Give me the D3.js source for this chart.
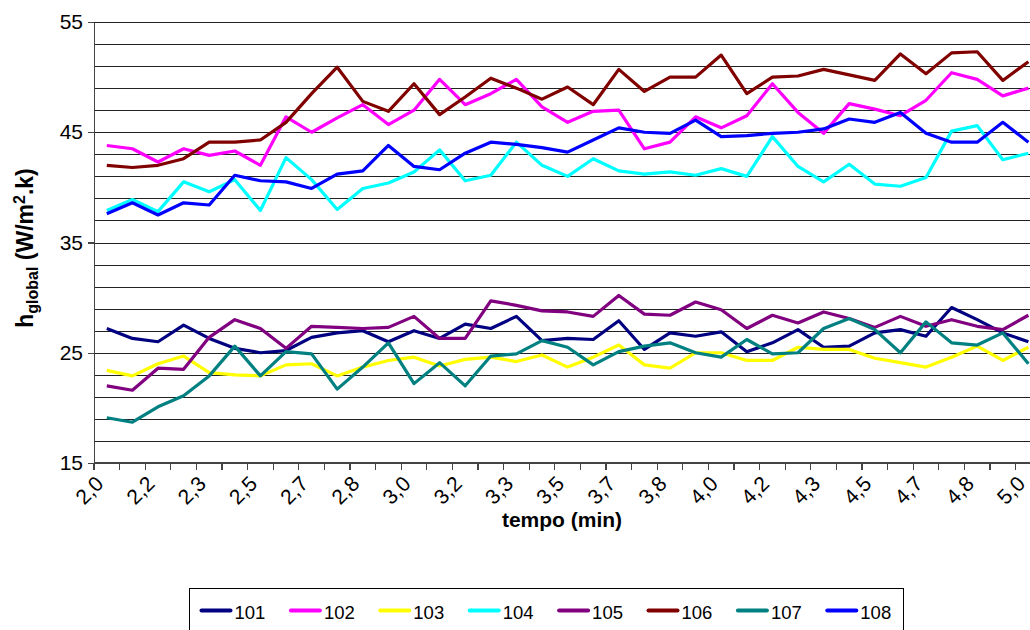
<!DOCTYPE html>
<html>
<head>
    <meta charset="utf-8">
    <script src="https://d3js.org/d3.v7.min.js"></script>
    <style>
        html, body {
            margin: 0;
            padding: 0;
            background: #fff;
            font-family: "Liberation Sans", Arial, sans-serif;
        }
        svg { display: block; }
        .grid line { stroke: #222; stroke-width: 1; shape-rendering: crispEdges; }
        .axis path, .axis line { stroke: #444; stroke-width: 1.3; shape-rendering: crispEdges; }
        .axis text { font-size: 21px; fill: #000; }
        .serie { fill: none; stroke-width: 3.2; stroke-linejoin: round; }
    </style>
</head>
<body>
<div id="chart"></div>
<script>
    // categorias (tempo, min) - rotulos mostrados a cada 2 categorias
    var tempo = ["2,0","2,1","2,2","2,3","2,3","2,4","2,5","2,6","2,7","2,8","2,8","2,9",
                 "3,0","3,1","3,2","3,3","3,3","3,4","3,5","3,6","3,7","3,8","3,8","3,9",
                 "4,0","4,1","4,2","4,3","4,3","4,4","4,5","4,6","4,7","4,8","4,8","4,9","5,0"];

    var s101 = [27.2,26.3,26.0,27.5,26.3,25.4,25.0,25.2,26.4,26.8,27.0,26.0,27.0,26.3,27.6,27.2,28.3,26.1,26.3,26.2,
                27.9,25.3,26.8,26.5,26.9,25.1,25.9,27.1,25.5,25.6,26.8,27.1,26.5,29.1,28.0,26.8,26.0];
    var s102 = [43.8,43.5,42.3,43.5,42.9,43.3,42.0,46.4,45.0,46.3,47.5,45.7,47.0,49.8,47.5,48.5,49.8,47.3,45.9,46.9,
                47.0,43.5,44.1,46.4,45.4,46.5,49.4,46.8,44.9,47.6,47.1,46.5,47.9,50.4,49.8,48.3,49.0];
    var s103 = [23.4,22.9,24.0,24.7,23.2,23.0,22.9,23.9,24.0,22.9,23.7,24.3,24.6,23.8,24.4,24.6,24.2,24.8,23.7,24.6,
                25.7,23.9,23.6,25.0,25.0,24.3,24.3,25.5,25.3,25.3,24.5,24.1,23.7,24.6,25.6,24.3,25.5];
    var s104 = [37.9,38.9,37.8,40.5,39.6,40.7,37.9,42.7,40.7,38.0,39.9,40.4,41.4,43.4,40.6,41.1,44.1,42.0,41.0,42.6,
                41.5,41.2,41.4,41.1,41.7,41.0,44.6,41.9,40.5,42.1,40.3,40.1,40.9,45.1,45.6,42.5,43.1];
    var s105 = [22.0,21.6,23.6,23.5,26.4,28.0,27.2,25.4,27.4,27.3,27.2,27.3,28.3,26.3,26.3,29.7,29.3,28.8,28.7,28.3,
                30.2,28.5,28.4,29.6,28.9,27.2,28.4,27.7,28.7,28.1,27.3,28.3,27.4,28.0,27.4,27.1,28.4];
    var s106 = [42.0,41.8,42.0,42.6,44.1,44.1,44.3,45.9,48.5,50.9,47.8,46.9,49.4,46.6,48.2,49.9,49.0,48.0,49.1,47.5,
                50.7,48.7,50.0,50.0,52.0,48.5,50.0,50.1,50.7,50.2,49.7,52.1,50.3,52.2,52.3,49.7,51.4];
    var s107 = [19.1,18.7,20.1,21.1,22.9,25.6,22.9,25.1,24.9,21.7,23.7,25.9,22.2,24.1,22.0,24.7,24.9,26.1,25.5,23.9,
                25.1,25.6,25.9,25.0,24.6,26.2,24.9,25.0,27.2,28.1,27.1,25.0,27.8,25.9,25.7,26.8,24.0];
    var s108 = [37.6,38.6,37.5,38.6,38.4,41.1,40.6,40.5,39.9,41.2,41.5,43.8,41.9,41.6,43.1,44.1,43.9,43.6,43.2,44.3,
                45.4,45.0,44.9,46.1,44.6,44.7,44.9,45.0,45.3,46.2,45.9,46.8,44.9,44.1,44.1,45.9,44.1];

    var nomes = ["101", "102", "103", "104", "105", "106", "107", "108"];
    var cores = ["#000080", "#ff00ff", "#ffff00", "#00ffff", "#800080", "#800000", "#008080", "#0000ff"];
    var yTicks = [15, 25, 35, 45, 55];

    var series = [s101, s102, s103, s104, s105, s106, s107, s108].map(function (v, k) {
        return {nome: nomes[k], cor: cores[k], valores: v};
    });

    var width = 1030, height = 630;
    var mLeft = 94, mTop = 22, mBottom = 463, step = 25.6;

    var svg = d3.select("#chart").append("svg")
        .attr("width", width)
        .attr("height", height);

    var x = d3.scaleBand()
        .domain(tempo.map(function (d, i) { return i; }))
        .range([mLeft, mLeft + tempo.length * step])
        .padding(0);

    var y = d3.scaleLinear()
        .domain([15, 55])
        .range([mBottom, mTop]);

    // grade horizontal (a cada 2 unidades)
    svg.append("g")
        .attr("class", "grid")
        .selectAll("line")
        .data(d3.range(17, 56, 2))
        .enter().append("line")
        .attr("x1", mLeft)
        .attr("x2", width)
        .attr("y1", function (d) { return Math.round(y(d)) + 0.5; })
        .attr("y2", function (d) { return Math.round(y(d)) + 0.5; });

    // eixo y
    svg.append("g")
        .attr("class", "axis")
        .attr("transform", "translate(" + mLeft + ",0)")
        .call(d3.axisLeft(y).tickValues(yTicks).tickSize(6).tickSizeOuter(0).tickPadding(5));

    // eixo x: marcas nas bordas das categorias
    var gx = svg.append("g")
        .attr("class", "axis")
        .attr("transform", "translate(0," + mBottom + ")");
    gx.append("line")
        .attr("x1", mLeft).attr("x2", width)
        .attr("y1", 0).attr("y2", 0);
    gx.selectAll("line.tick")
        .data(tempo.map(function (d, i) { return i; }))
        .enter().append("line")
        .attr("class", "tick")
        .attr("x1", function (i) { return x(i); })
        .attr("x2", function (i) { return x(i); })
        .attr("y1", 0).attr("y2", 7);
    gx.selectAll("text")
        .data(tempo.filter(function (d, i) { return i % 2 === 0; }))
        .enter().append("text")
        .attr("text-anchor", "end")
        .attr("transform", function (d, k) {
            var cx = x(k * 2) + x.bandwidth() / 2;
            return "translate(" + (cx - 2) + ",22) rotate(-45)";
        })
        .text(function (d) { return d; });

    // linhas
    var line = d3.line()
        .x(function (d, i) { return x(i) + x.bandwidth() / 2; })
        .y(function (d) { return y(d); });

    svg.append("g")
        .selectAll("path")
        .data(series)
        .enter().append("path")
        .attr("class", "serie")
        .attr("stroke", function (d) { return d.cor; })
        .attr("d", function (d) { return line(d.valores); });

    // titulos dos eixos
    svg.append("text")
        .attr("x", 562)
        .attr("y", 527)
        .attr("text-anchor", "middle")
        .style("font-size", "21px")
        .style("font-weight", "bold")
        .text("tempo (min)");

    var yt = svg.append("text")
        .attr("transform", "translate(33,248) rotate(-90)")
        .attr("text-anchor", "middle")
        .style("font-size", "23px")
        .style("font-weight", "bold");
    yt.append("tspan").text("h");
    yt.append("tspan").attr("dy", 5).style("font-size", "16px").text("global");
    yt.append("tspan").attr("dy", -5).text(" (W/m");
    yt.append("tspan").attr("dy", -8).style("font-size", "16px").text("2");
    yt.append("tspan").attr("dy", 8).text(".k)");

    // legenda
    var leg = svg.append("g").attr("transform", "translate(189.5,588.5)");
    leg.append("rect")
        .attr("width", 714)
        .attr("height", 60)
        .attr("fill", "#fff")
        .attr("stroke", "#000")
        .attr("stroke-width", 1);
    var item = leg.selectAll("g.item")
        .data(series)
        .enter().append("g")
        .attr("class", "item")
        .attr("transform", function (d, k) { return "translate(" + (12 + k * 89.4) + ",22)"; });
    item.append("line")
        .attr("x1", 0).attr("x2", 29)
        .attr("y1", 0).attr("y2", 0)
        .attr("stroke", function (d) { return d.cor; })
        .attr("stroke-width", 4)
        .attr("stroke-linecap", "round");
    item.append("text")
        .attr("x", 33)
        .attr("y", 8)
        .style("font-size", "18.5px")
        .text(function (d) { return d.nome; });
</script>
</body>
</html>
